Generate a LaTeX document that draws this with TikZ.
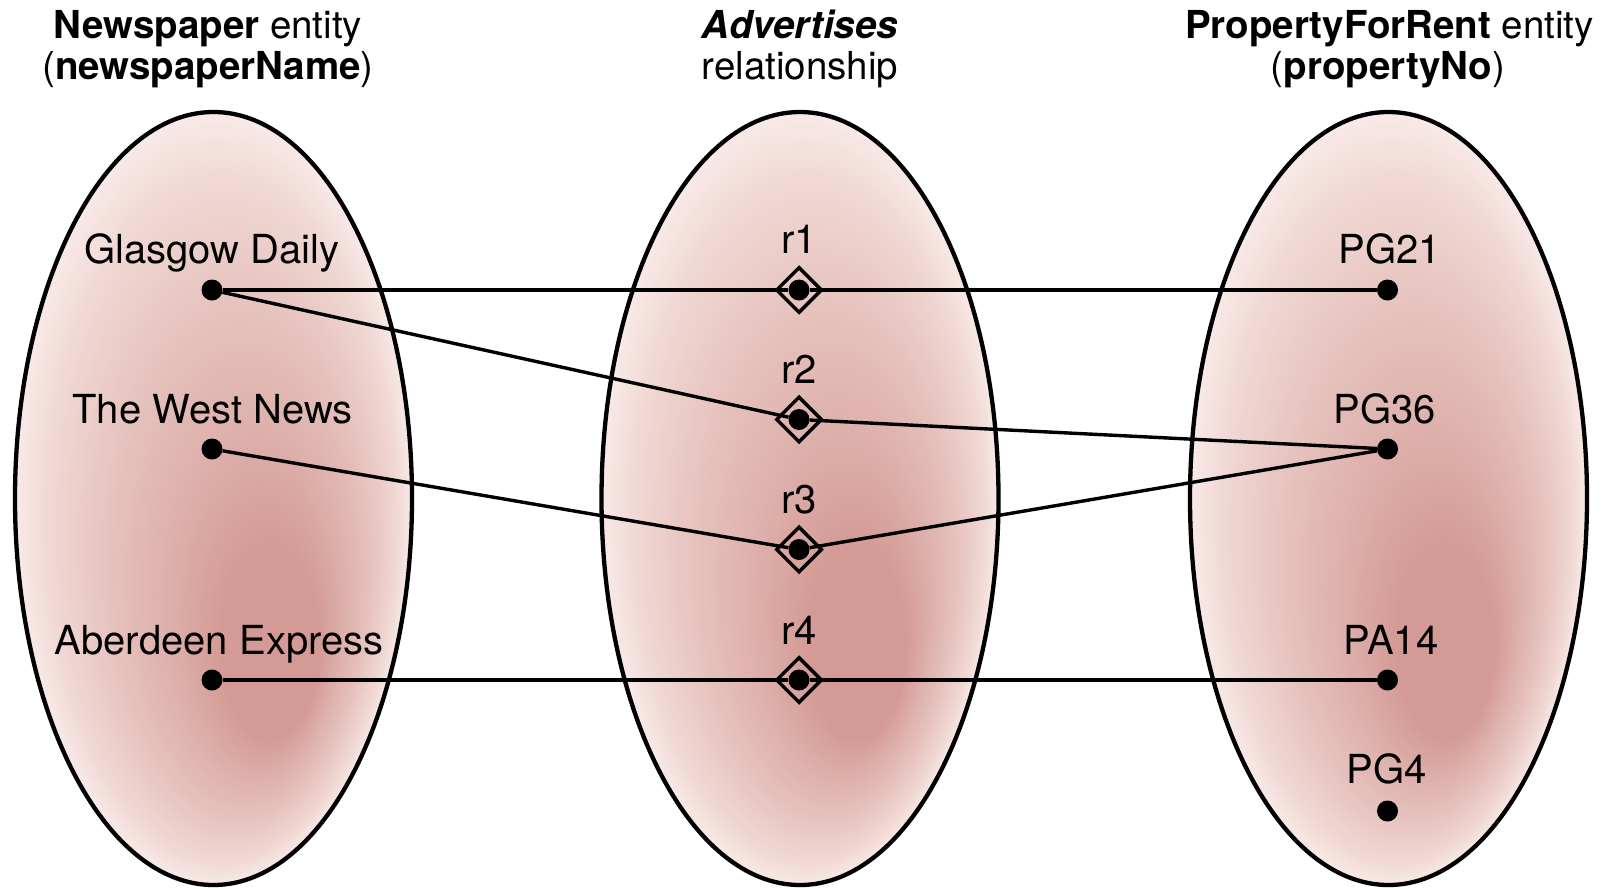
\documentclass[tikz,border=0pt]{standalone}
\usepackage{fontspec}
\setmainfont{TeX Gyre Heros}
\usetikzlibrary{shapes.geometric}

% pink fill of the three sets: dark spot low right, pale towards the rim
\definecolor{eggA}{RGB}{212,154,149}
\definecolor{eggB}{RGB}{221,175,170}
\definecolor{eggC}{RGB}{231,196,191}
\definecolor{eggD}{RGB}{240,216,212}
\definecolor{eggE}{RGB}{248,234,231}
\pgfdeclareradialshading{eggshade}{\pgfpoint{9.5bp}{-12.5bp}}{%
  color(0bp)=(eggA); color(6bp)=(eggA); color(11bp)=(eggB);
  color(17bp)=(eggC); color(22bp)=(eggD); color(25bp)=(eggE)}

\tikzset{
  setshape/.style={ellipse, draw=black, line width=4.3bp, inner sep=0pt,
    minimum width=397bp, minimum height=773bp, shading=eggshade, shade},
  item/.style={circle, fill=black, inner sep=0pt, minimum size=21bp},
  relbox/.style={diamond, draw=black, line width=3.5bp, inner sep=0pt,
    minimum width=46bp, minimum height=46bp},
  link/.style={line width=3.4bp},
  lbl/.style={anchor=base, inner sep=0pt, font=\fontsize{40bp}{48bp}\selectfont},
  head/.style={anchor=base, inner sep=0pt, font=\fontsize{38.5bp}{46bp}\selectfont},
}

\begin{document}
\begin{tikzpicture}[x=1bp, y=-1bp]
\useasboundingbox (0,0) rectangle (1608,888);

% the three sets
\node[setshape] (newspaper)  at (213.5,498.5) {};
\node[setshape] (advertises) at (800,498.5) {};
\node[setshape] (property)   at (1388.5,498.5) {};

% headings
\node[head] (t1a) at (208,38) {\textbf{Newspaper} entity};
\node[head] (t1b) at (208,79) {(\textbf{newspaperName})};
\node[head] (t2a) at (800,38) {\textbf{\itshape Advertises}};
\node[head] (t2b) at (800,79) {relationship};
\node[head] (t3a) at (1389.5,38) {\textbf{PropertyForRent} entity};
\node[head] (t3b) at (1388,79) {(\textbf{propertyNo})};

% newspaper occurrences
\node[item] (gd) at (212,290) {};
\node[item] (wn) at (212,449) {};
\node[item] (ae) at (212,680) {};
\node[lbl] (gdl) at (212,263.5) {Glasgow Daily};
\node[lbl] (wnl) at (212.5,423.5) {The West News};
\node[lbl] (ael) at (219,654) {Aberdeen Express};

% relationship occurrences
\node[relbox] (r1box) at (799,290) {};
\node[relbox] (r2box) at (799,419.5) {};
\node[relbox] (r3box) at (799,549.5) {};
\node[relbox] (r4box) at (799,680) {};
\node[item] (r1) at (799,290) {};
\node[item] (r2) at (799,419.5) {};
\node[item] (r3) at (799,549.5) {};
\node[item] (r4) at (799,680) {};
\node[lbl] (r1l) at (799,253) {r1};
\node[lbl] (r2l) at (799,383.5) {r2};
\node[lbl] (r3l) at (799,513.5) {r3};
\node[lbl] (r4l) at (799,644) {r4};

% property occurrences
\node[item] (pg21) at (1387.5,290) {};
\node[item] (pg36) at (1387.5,449) {};
\node[item] (pa14) at (1387.5,680) {};
\node[item] (pg4)  at (1387.5,811) {};
\node[lbl] (pg21l) at (1389.5,263.5) {PG21};
\node[lbl] (pg36l) at (1384.5,423.5) {PG36};
\node[lbl] (pa14l) at (1391,654) {PA14};
\node[lbl] (pg4l)  at (1386.5,783) {PG4};

% participation links
\draw[link] (gd) -- (r1) -- (pg21);
\draw[link] (gd) -- (r2) -- (pg36);
\draw[link] (wn) -- (r3) -- (pg36);
\draw[link] (ae) -- (r4) -- (pa14);
\end{tikzpicture}
\end{document}
